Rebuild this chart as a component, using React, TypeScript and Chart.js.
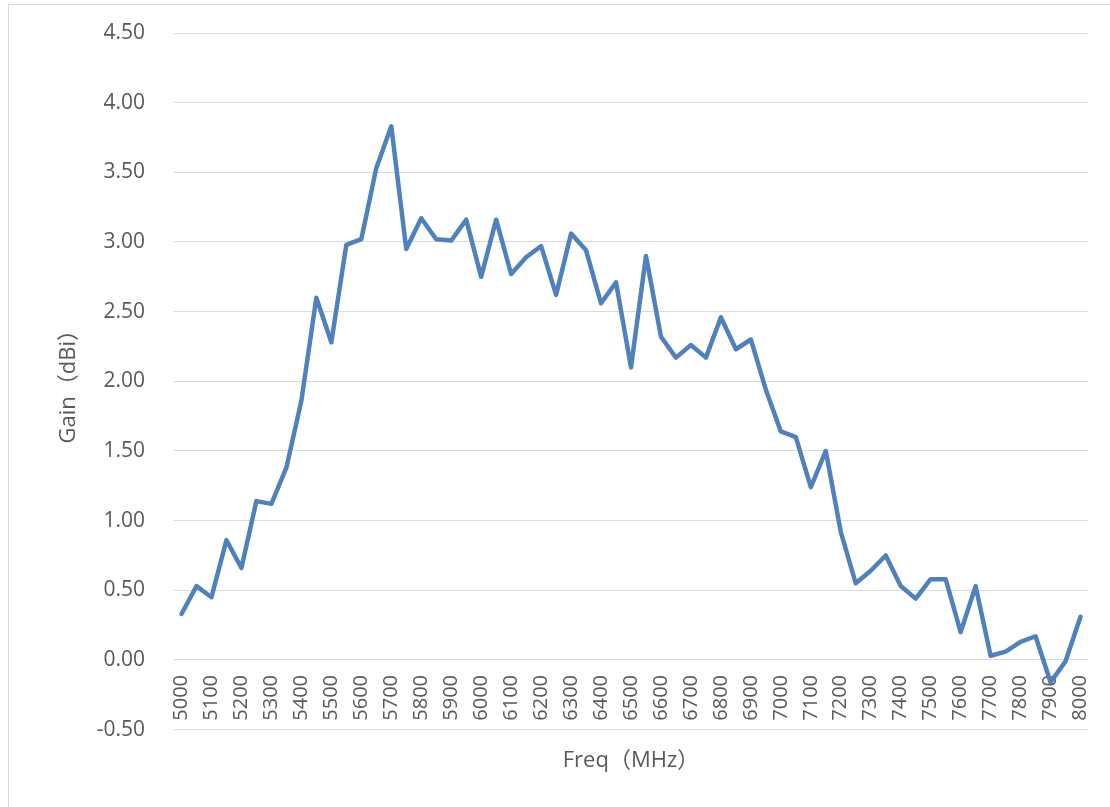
import React, { useEffect, useRef } from "react";
import { Chart, registerables } from "chart.js";

Chart.register(...registerables);

const freqs: number[] = [
  5000, 5050, 5100, 5150, 5200, 5250, 5300, 5350, 5400, 5450,
  5500, 5550, 5600, 5650, 5700, 5750, 5800, 5850, 5900, 5950,
  6000, 6050, 6100, 6150, 6200, 6250, 6300, 6350, 6400, 6450,
  6500, 6550, 6600, 6650, 6700, 6750, 6800, 6850, 6900, 6950,
  7000, 7050, 7100, 7150, 7200, 7250, 7300, 7350, 7400, 7450,
  7500, 7550, 7600, 7650, 7700, 7750, 7800, 7850, 7900, 7950,
  8000,
];

const gain: number[] = [
  0.33, 0.53, 0.45, 0.86, 0.66, 1.14, 1.12, 1.38, 1.86, 2.60,
  2.28, 2.98, 3.02, 3.53, 3.83, 2.95, 3.17, 3.02, 3.01, 3.16,
  2.75, 3.16, 2.77, 2.89, 2.97, 2.62, 3.06, 2.94, 2.56, 2.71,
  2.10, 2.90, 2.32, 2.17, 2.26, 2.17, 2.46, 2.23, 2.30, 1.94,
  1.64, 1.60, 1.24, 1.50, 0.92, 0.55, 0.64, 0.75, 0.53, 0.44,
  0.58, 0.58, 0.20, 0.53, 0.03, 0.06, 0.13, 0.17, -0.16, -0.01,
  0.31,
];

const yMin = -0.5;
const yMax = 4.5;
const yStep = 0.5;
const xTitle = "Freq（MHz）";
const yTitle = "Gain（dBi）";

const TEXT = "#595959";
const GRID = "#d9d9d9";
const LINE = "#4f81bd";
const FONT = '"Open Sans", "Noto Sans CJK SC", sans-serif';

export default function App() {
  const ref = useRef<HTMLCanvasElement>(null);

  useEffect(() => {
    if (!ref.current) return;
    const labels = freqs.map(String);
    const chart = new Chart(ref.current, {
      type: "line",
      data: {
        labels,
        datasets: [
          {
            data: gain,
            borderColor: LINE,
            backgroundColor: LINE,
            borderWidth: 4.5,
            pointRadius: 0,
            tension: 0,
            borderJoinStyle: "round",
            borderCapStyle: "round",
            xAxisID: "x",
            yAxisID: "y",
          },
        ],
      },
      options: {
        animation: false,
        responsive: false,
        layout: { padding: { left: 40, right: 22, top: 28, bottom: 29 } },
        plugins: {
          legend: { display: false },
          tooltip: { enabled: false },
        },
        scales: {
          x: {
            type: "category",
            position: { y: 0 } as any,
            offset: true,
            grid: {
              display: true,
              drawOnChartArea: false,
              drawTicks: true,
              tickLength: 15,
              tickColor: "rgba(0,0,0,0)",
              color: "rgba(0,0,0,0)",
            },
            border: { display: false },
            ticks: {
              autoSkip: false,
              minRotation: 90,
              maxRotation: 90,
              padding: 0,
              color: TEXT,
              font: { family: FONT, size: 20 },
              callback: (_v: any, i: number) =>
                freqs[i] % 100 === 0 ? String(freqs[i]) : "",
            },
          },
          x2: {
            type: "category",
            position: "bottom",
            labels,
            grid: { display: false },
            border: { display: false },
            ticks: { display: false },
            title: {
              display: true,
              text: xTitle,
              color: TEXT,
              font: { family: FONT, size: 22 },
              padding: { top: 10, bottom: 4 },
            },
          },
          y: {
            min: yMin,
            max: yMax,
            grid: {
              color: GRID,
              lineWidth: 1,
              drawTicks: true,
              tickLength: 27,
              tickColor: "rgba(0,0,0,0)",
            },
            border: { display: false },
            ticks: {
              stepSize: yStep,
              padding: 2,
              color: TEXT,
              font: { family: FONT, size: 21 },
              callback: (v: any) => Number(v).toFixed(2),
            },
            afterFit: (s: any) => {
              s.width = 125;
            },
            title: {
              display: true,
              text: yTitle,
              color: TEXT,
              font: { family: FONT, size: 22 },
              padding: { top: 7, bottom: 0 },
            },
          },
        },
      },
    });
    return () => chart.destroy();
  }, []);

  return (
    <div
      style={{
        position: "fixed",
        left: 8,
        top: 4,
        width: 1101,
        height: 802,
        borderTop: `1px solid ${GRID}`,
        borderLeft: `1px solid ${GRID}`,
        background: "#fff",
      }}
    >
      <canvas ref={ref} width={1101} height={802} style={{ display: "block" }} />
    </div>
  );
}
